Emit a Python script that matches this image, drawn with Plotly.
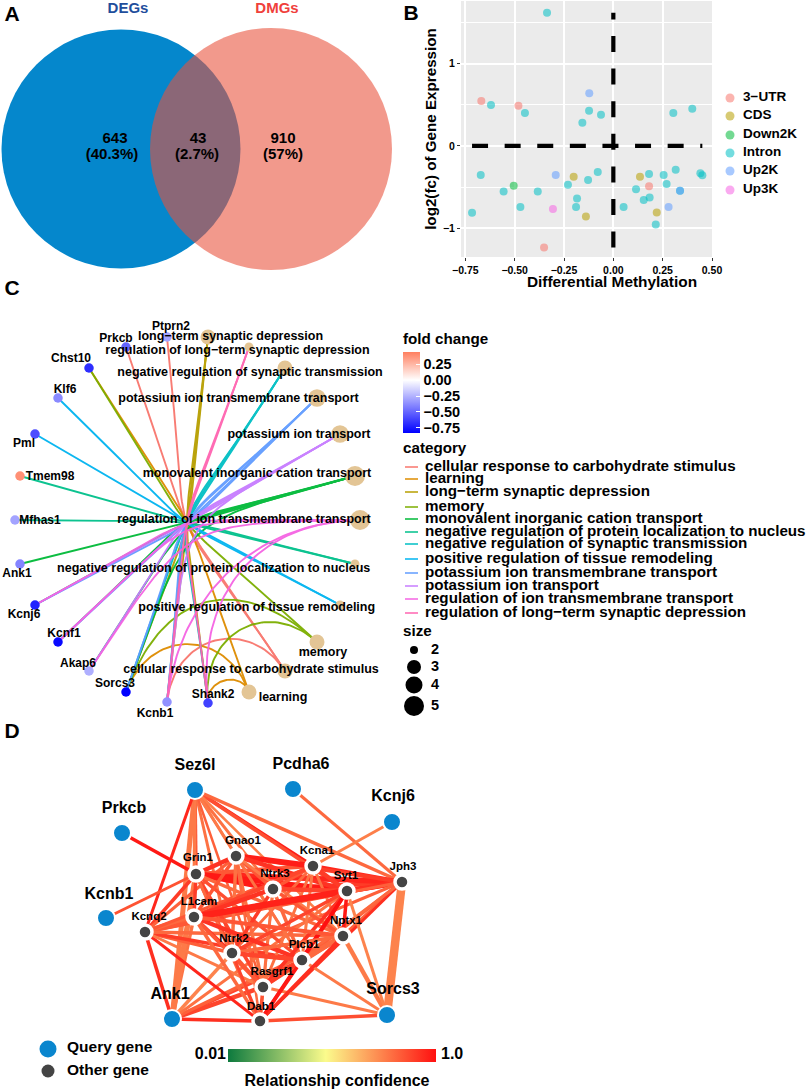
import numpy as np
import plotly.graph_objects as go
from plotly.colors import sample_colorscale

FONT = "Liberation Sans"
W, H = 809, 1091

# ---------- Panel A: Venn ----------
venn_titles = ["DEGs", "DMGs"]
venn_counts = ["643", "43", "910"]
venn_pcts = ["(40.3%)", "(2.7%)", "(57%)"]

# ---------- Panel B: scatter ----------
regions = ["3\u2212UTR", "CDS", "Down2K", "Intron", "Up2K", "Up3K"]
region_colors = ["#F8766D", "#B79F00", "#00BA38", "#00BFC4", "#619CFF", "#F564E3"]
meth = {
    "3\u2212UTR": [-0.669, -0.481, 0.181, -0.351],
    "CDS": [-0.201, 0.135, -0.139, 0.22],
    "Down2K": [-0.505],
    "Intron": [-0.336, -0.62, -0.448, -0.123, -0.157, -0.0625, 0.304, 0.40, -0.672, -0.556, -0.471,
               -0.716, -0.383, -0.23, -0.184, -0.189, -0.128, -0.079, 0.052, 0.115, 0.154, 0.184,
               0.181, 0.255, 0.27, 0.316, 0.441, 0.451, 0.215, 0.338],
    "Up2K": [-0.122, -0.292, 0.28, 0.338],
    "Up3K": [-0.306],
}
expr = {
    "3\u2212UTR": [0.545, 0.488, -0.492, -1.236],
    "CDS": [-0.374, -0.374, -0.858, -0.809],
    "Down2K": [-0.484],
    "Intron": [1.618, 0.496, 0.398, 0.427, 0.28, 0.378, 0.398, 0.451, -0.354, -0.553, -0.744,
               -0.813, -0.553, -0.472, -0.638, -0.744, -0.415, -0.317, -0.744, -0.528, -0.659, -0.626,
               -0.341, -0.354, -0.463, -0.289, -0.333, -0.358, -0.955, -0.545],
    "Up2K": [0.638, -0.354, -0.744, -0.545],
    "Up3K": [-0.768],
}
region_leg_y = [98, 116, 135, 153, 171, 190]

# ---------- Panel C: gene-concept network ----------
c_genes = ["Ptprn2", "Prkcb", "Chst10", "Klf6", "Pml", "Tmem98", "Mfhas1", "Ank1", "Kcnj6", "Kcnf1",
           "Akap6", "Sorcs3", "Kcnb1", "Shank2"]
c_gene_x = [167, 126, 89, 58, 35, 20, 15, 20, 35, 58, 89, 126, 167, 208]
c_gene_y = [337, 347, 368, 398, 434, 476, 520, 564, 605, 642, 671, 692, 702, 703]
c_gene_fc = [-0.30, -0.50, -0.68, -0.38, -0.58, 0.38, -0.30, -0.40, -0.72, -0.80, -0.26, -0.83, -0.36, -0.62]
c_gene_lx = [171, 116, 71, 65, 24, 50, 40, 17, 24, 64, 78, 115, 155, 213]
c_gene_ly = [327, 339, 359, 390, 444, 477, 521, 574, 615, 634, 664, 684, 714, 695]

c_terms = ["cellular response to carbohydrate stimulus", "learning", "long\u2212term synaptic depression",
           "memory", "monovalent inorganic cation transport",
           "negative regulation of protein localization to nucleus",
           "negative regulation of synaptic transmission", "positive regulation of tissue remodeling",
           "potassium ion transmembrane transport", "potassium ion transport",
           "regulation of ion transmembrane transport", "regulation of long\u2212term synaptic depression"]
c_term_colors = ["#F8766D", "#DE8C00", "#B79F00", "#7CAE00", "#00BA38", "#00C08B", "#00BFC4", "#00B4F0",
                 "#619CFF", "#C77CFF", "#F564E3", "#FF64B0"]
c_term_x = [285, 249, 208, 317, 355, 355, 285, 340, 317, 340, 360, 249]
c_term_y = [671, 692, 337, 642, 476, 564, 368, 605, 398, 434, 520, 347]
c_term_lx = [251, 283, 230.5, 323, 257, 213.7, 250, 256.7, 238.5, 299, 244, 237.5]
c_term_ly = [670, 698, 337, 653, 474, 569, 373, 608, 399, 435, 520, 351]
c_term_genes = [
    ["Prkcb", "Ptprn2", "Kcnb1"],
    ["Chst10", "Sorcs3", "Shank2"],
    ["Sorcs3", "Kcnb1", "Shank2"],
    ["Chst10", "Sorcs3", "Shank2"],
    ["Ank1", "Kcnj6", "Kcnf1", "Akap6", "Sorcs3"],
    ["Tmem98", "Mfhas1"],
    ["Sorcs3", "Kcnb1", "Shank2"],
    ["Klf6", "Pml"],
    ["Kcnj6", "Kcnf1", "Sorcs3", "Kcnb1"],
    ["Kcnj6", "Kcnf1", "Akap6", "Kcnb1"],
    ["Kcnj6", "Kcnf1", "Akap6", "Kcnb1", "Shank2"],
    ["Kcnb1", "Shank2"],
]
c_center = (187, 523)
c_legend_y = [467, 479, 492, 507, 519, 532, 544, 559, 573, 586, 599, 613]
size_levels = [2, 3, 4, 5]
size_diam = {2: 9, 3: 15, 4: 17.5, 5: 20}
size_leg_y = [650, 667, 685, 706]
size_leg_d = [8, 14, 17, 20]

# ---------- Panel D: interaction network ----------
query_genes = ["Sez6l", "Pcdha6", "Kcnj6", "Prkcb", "Kcnb1", "Ank1", "Sorcs3"]
query_x = [195, 293, 392, 122, 106, 172, 387]
query_y = [790, 789, 822, 833, 918, 1019, 1015]
query_lx = [195, 301, 393, 124, 109, 170, 393]
query_ly = [766, 765, 797, 809, 895, 995, 990]
other_genes = ["Gnao1", "Grin1", "Kcna1", "Jph3", "Ntrk3", "Syt1", "L1cam", "Kcnq2", "Nptx1", "Ntrk2",
               "Plcb1", "Rasgrf1", "Dab1"]
other_x = [236, 196, 313, 402, 273, 347, 194, 145, 343, 232, 302, 263, 260]
other_y = [856, 874, 866, 882, 889, 891, 917, 932, 936, 953, 960, 987, 1021]
other_lx = [243, 198, 317, 403, 275, 346, 199, 149, 346, 234, 304, 272, 261]
other_ly = [841, 858, 851, 867, 874, 876, 902, 917, 921, 939, 945, 972, 1007]
d_edges = [
    ("Sez6l", "Ank1", .76, 5), ("Sez6l", "Kcnq2", .95, 3), ("Sez6l", "Grin1", .86, 3.5), ("Sez6l", "L1cam", .76, 3.5),
    ("Sez6l", "Gnao1", .78, 3), ("Sez6l", "Ntrk3", .78, 3), ("Sez6l", "Kcna1", .97, 3.5), ("Sez6l", "Syt1", .86, 3.5),
    ("Sez6l", "Jph3", .80, 3.5), ("Sez6l", "Ntrk2", .78, 3), ("Sez6l", "Plcb1", .76, 2.5), ("Sez6l", "Nptx1", .75, 2.5),
    ("Sez6l", "Rasgrf1", .82, 2.5), ("Prkcb", "Grin1", .98, 3.5), ("Kcnb1", "Grin1", .85, 3), ("Pcdha6", "Jph3", .80, 3),
    ("Kcnj6", "Kcna1", .75, 3), ("Jph3", "Sorcs3", .74, 8.5), ("Jph3", "Kcna1", .95, 4), ("Jph3", "Syt1", .97, 5.5),
    ("Jph3", "Ntrk3", .90, 4.5), ("Jph3", "Grin1", .95, 5.5), ("Jph3", "L1cam", .93, 5), ("Jph3", "Nptx1", .82, 3.5),
    ("Jph3", "Plcb1", .82, 3.5), ("Jph3", "Dab1", .93, 3), ("Jph3", "Gnao1", .90, 4), ("Jph3", "Rasgrf1", .80, 3),
    ("Jph3", "Ntrk2", .82, 3), ("Jph3", "Kcnq2", .82, 3),
    ("Ank1", "Kcnq2", .93, 3.5), ("Ank1", "Dab1", .93, 3.5), ("Ank1", "Rasgrf1", .88, 4.5), ("Ank1", "Plcb1", .88, 3.5),
    ("Ank1", "L1cam", .78, 3.5), ("Ank1", "Grin1", .76, 5.5), ("Ank1", "Ntrk2", .74, 3.5), ("Ank1", "Nptx1", .82, 3.5),
    ("Ank1", "Syt1", .78, 3), ("Sorcs3", "Dab1", .86, 3.5), ("Sorcs3", "Rasgrf1", .76, 3), ("Sorcs3", "Nptx1", .76, 4.5),
    ("Sorcs3", "Syt1", .74, 3), ("Sorcs3", "Plcb1", .76, 3),
    ("Kcnq2", "Grin1", .90, 3.5), ("Kcnq2", "L1cam", .82, 5.5), ("Kcnq2", "Ntrk2", .82, 3.5), ("Kcnq2", "Dab1", .95, 3),
    ("Kcnq2", "Plcb1", .90, 3.5), ("Kcnq2", "Syt1", .84, 4), ("Kcnq2", "Nptx1", .80, 3.5), ("Kcnq2", "Ntrk3", .80, 3.5),
    ("Kcnq2", "Rasgrf1", .76, 3), ("Kcnq2", "Kcna1", .84, 3), ("Kcnq2", "Gnao1", .82, 3),
    ("Grin1", "Gnao1", .92, 4.5), ("Grin1", "Kcna1", .84, 4), ("Grin1", "Ntrk3", .98, 5), ("Grin1", "Syt1", .98, 5.5),
    ("Grin1", "L1cam", .90, 3.5), ("Grin1", "Ntrk2", .86, 3.5), ("Grin1", "Plcb1", .86, 3.5), ("Grin1", "Rasgrf1", .88, 3.5),
    ("Grin1", "Nptx1", .80, 3.5), ("Grin1", "Dab1", .80, 3),
    ("Gnao1", "Kcna1", .97, 5.5), ("Gnao1", "Ntrk3", .84, 3.5), ("Gnao1", "Syt1", .92, 4.5), ("Gnao1", "L1cam", .84, 3.5),
    ("Gnao1", "Ntrk2", .78, 3.5), ("Gnao1", "Plcb1", .78, 3), ("Gnao1", "Rasgrf1", .78, 3.5), ("Gnao1", "Nptx1", .76, 3),
    ("Gnao1", "Dab1", .80, 2.5), ("Kcna1", "Ntrk3", .84, 3.5), ("Kcna1", "Syt1", .90, 4.5), ("Kcna1", "L1cam", .88, 4),
    ("Kcna1", "Ntrk2", .80, 3), ("Kcna1", "Plcb1", .76, 3), ("Kcna1", "Rasgrf1", .78, 3), ("Kcna1", "Nptx1", .78, 3),
    ("Ntrk3", "Syt1", .88, 4.5), ("Ntrk3", "L1cam", .92, 4.5), ("Ntrk3", "Ntrk2", .90, 3.5), ("Ntrk3", "Plcb1", .80, 3.5),
    ("Ntrk3", "Rasgrf1", .78, 3), ("Ntrk3", "Nptx1", .84, 3.5), ("Ntrk3", "Dab1", .78, 2.5),
    ("Syt1", "L1cam", .96, 6.5), ("Syt1", "Ntrk2", .88, 3.5), ("Syt1", "Plcb1", .98, 4), ("Syt1", "Rasgrf1", .92, 3.5),
    ("Syt1", "Nptx1", .98, 3.5), ("Syt1", "Dab1", 1.0, 3.5),
    ("L1cam", "Ntrk2", .92, 3.5), ("L1cam", "Plcb1", .92, 4.5), ("L1cam", "Rasgrf1", .84, 3.5), ("L1cam", "Nptx1", .84, 4),
    ("L1cam", "Dab1", .80, 3.5), ("Nptx1", "Ntrk2", .80, 3.5), ("Nptx1", "Plcb1", .80, 5), ("Nptx1", "Rasgrf1", .80, 3.5),
    ("Nptx1", "Dab1", .93, 3.5), ("Ntrk2", "Plcb1", .88, 4.5), ("Ntrk2", "Rasgrf1", .84, 3.5), ("Ntrk2", "Dab1", .88, 3),
    ("Plcb1", "Rasgrf1", .90, 4.5), ("Plcb1", "Dab1", .98, 3.5), ("Rasgrf1", "Dab1", .85, 3.5),
]
conf_scale = [[0, "#0d7a3e"], [0.47, "#fbfb8c"], [1, "#ff1010"]]

fig = go.Figure()


def text(xs, ys, labels, size, color="black", pos="middle center", name="labels"):
    fig.add_trace(go.Scatter(
        x=xs, y=ys, text=labels, mode="text", textposition=pos, xaxis="x2", yaxis="y2",
        textfont=dict(family=FONT, size=size, color=color, weight=700),
        cliponaxis=False, showlegend=False, hoverinfo="skip", name=name))


def bend(chord):
    """How far a circular-layout edge is pulled towards the middle of the ring."""
    if chord <= 270:
        return min(chord / 217, 0.9)
    return min(2.0, 0.9 + (chord - 270) * 1.1 / 70)


# ---- B ----
for r, col in zip(regions, region_colors):
    fig.add_trace(go.Scatter(x=meth[r], y=expr[r], mode="markers", name=r, showlegend=False,
                             marker=dict(size=8, color=col, opacity=0.55, line=dict(width=0)),
                             xaxis="x", yaxis="y"))
all_x = [v for r in regions for v in meth[r]]
all_y = [v for r in regions for v in expr[r]]
fig.add_trace(go.Scatter(x=[min(all_x), max(all_x)], y=[0, 0], mode="lines", showlegend=False,
                         line=dict(color="black", width=4.2, dash="16px,16.6px"), xaxis="x", yaxis="y"))
fig.add_trace(go.Scatter(x=[0, 0], y=[min(all_y), max(all_y)], mode="lines", showlegend=False,
                         line=dict(color="black", width=4.2, dash="16px,16.6px"), xaxis="x", yaxis="y"))
fig.add_trace(go.Scatter(x=[730] * 6, y=region_leg_y, mode="markers", xaxis="x2", yaxis="y2", showlegend=False,
                         marker=dict(size=9, color=region_colors, opacity=0.55, line=dict(width=0)),
                         text=regions, hoverinfo="text"))
text([743] * 6, region_leg_y, regions, 13.5, pos="middle right")
text([612], [283], ["Differential Methylation"], 15.4)

# ---- C edges ----
gx = dict(zip(c_genes, c_gene_x))
gy = dict(zip(c_genes, c_gene_y))
ts = np.linspace(0, 1, 61)
for term, col, tx, ty, genes in zip(c_terms, c_term_colors, c_term_x, c_term_y, c_term_genes):
    xs, ys = [], []
    for g in genes:
        ax, ay = gx[g], gy[g]
        k = min(4 / 3, bend(np.hypot(tx - ax, ty - ay)) / 1.5)
        p1x, p1y = ax + k * (c_center[0] - ax), ay + k * (c_center[1] - ay)
        p2x, p2y = tx + k * (c_center[0] - tx), ty + k * (c_center[1] - ty)
        xs += list((1 - ts) ** 3 * ax + 3 * ts * (1 - ts) ** 2 * p1x + 3 * ts ** 2 * (1 - ts) * p2x + ts ** 3 * tx) + [None]
        ys += list((1 - ts) ** 3 * ay + 3 * ts * (1 - ts) ** 2 * p1y + 3 * ts ** 2 * (1 - ts) * p2y + ts ** 3 * ty) + [None]
    fig.add_trace(go.Scatter(x=xs, y=ys, mode="lines", line=dict(color=col, width=1.9), opacity=0.95,
                             xaxis="x2", yaxis="y2", showlegend=False, hoverinfo="skip", name=term))

# ---- C nodes ----
fig.add_trace(go.Scatter(
    x=c_term_x, y=c_term_y, mode="markers", xaxis="x2", yaxis="y2", showlegend=False,
    marker=dict(color="#E3C595", opacity=1, line=dict(width=0), size=[size_diam[len(g)] for g in c_term_genes]),
    text=c_terms, hoverinfo="text"))
fig.add_trace(go.Scatter(
    x=c_gene_x, y=c_gene_y, mode="markers", xaxis="x2", yaxis="y2", showlegend=False,
    marker=dict(size=9.5, opacity=1, color=c_gene_fc, coloraxis="coloraxis", line=dict(width=0)),
    text=c_genes, hoverinfo="text"))
text(c_term_lx, c_term_ly, c_terms, 12.5)
text(c_gene_lx, c_gene_ly, c_genes, 12)

# ---- C legends ----
text([403], [340], ["fold change"], 15.2, pos="middle right")
text([403], [449], ["category"], 15.2, pos="middle right")
text([403], [632], ["size"], 15.2, pos="middle right")
for col, y in zip(c_term_colors, c_legend_y):
    fig.add_trace(go.Scatter(x=[405, 418], y=[y, y], mode="lines", line=dict(color=col, width=1.5),
                             xaxis="x2", yaxis="y2", showlegend=False, hoverinfo="skip"))
text([425] * len(c_terms), c_legend_y, c_terms, 15.2, pos="middle right")
fig.add_trace(go.Scatter(x=[414] * 4, y=size_leg_y, mode="markers", xaxis="x2", yaxis="y2", showlegend=False,
                         marker=dict(size=size_leg_d, opacity=1, color="black", line=dict(width=0))))
text([431] * 4, size_leg_y, [str(s) for s in size_levels], 14.5, pos="middle right")

# ---- D ----
pos = {n: (x, y) for n, x, y in zip(query_genes + other_genes, query_x + other_x, query_y + other_y)}
for a, b, conf, w in d_edges:
    col = sample_colorscale(conf_scale, [conf])[0]
    fig.add_trace(go.Scatter(x=[pos[a][0], pos[b][0]], y=[pos[a][1], pos[b][1]], mode="lines",
                             line=dict(color=col, width=w), xaxis="x2", yaxis="y2",
                             showlegend=False, hoverinfo="skip"))
fig.add_trace(go.Scatter(x=query_x, y=query_y, mode="markers", xaxis="x2", yaxis="y2", showlegend=False,
                         marker=dict(size=18, color="#0A86CE", line=dict(color="white", width=2)),
                         text=query_genes, hoverinfo="text"))
fig.add_trace(go.Scatter(x=other_x, y=other_y, mode="markers", xaxis="x2", yaxis="y2", showlegend=False,
                         marker=dict(size=14, color="#444444", line=dict(color="white", width=3.5)),
                         text=other_genes, hoverinfo="text"))
text(query_lx, query_ly, query_genes, 16)
text(other_lx, other_ly, other_genes, 11.5)

# D legends
fig.add_trace(go.Scatter(x=[48, 48], y=[1049, 1071], mode="markers", xaxis="x2", yaxis="y2", showlegend=False,
                         marker=dict(size=[17, 13], opacity=1, color=["#0A86CE", "#444444"], line=dict(width=0))))
text([67, 67], [1048, 1071], ["Query gene", "Other gene"], 15.5, pos="middle right")
fig.add_trace(go.Scatter(x=[48], y=[1049], mode="markers", xaxis="x2", yaxis="y2", showlegend=False, hoverinfo="skip",
                         marker=dict(size=1, opacity=0, color=[1.0], coloraxis="coloraxis2")))
text([226], [1055], ["0.01"], 16, pos="middle left")
text([441], [1055], ["1.0"], 16, pos="middle right")
text([337], [1082], ["Relationship confidence"], 16)

# A text and panel letters
text([128, 277], [9, 9], venn_titles, 15, color=["#1F4E9C", "#F0403C"])
text([115, 198, 283], [139, 139, 139], venn_counts, 15)
text([112, 197, 283], [155, 155, 155], venn_pcts, 15)
text([12, 411, 12, 12], [16, 15, 290, 733], ["A", "B", "C", "D"], 21)

fig.update_layout(
    width=W, height=H, autosize=False, margin=dict(l=0, r=0, t=0, b=0, autoexpand=False),
    paper_bgcolor="white", plot_bgcolor="rgba(0,0,0,0)", showlegend=False,
    font=dict(family=FONT, color="black"),
    xaxis=dict(domain=[461 / W, 712 / W], range=[-0.772, 0.5], anchor="y",
               tickvals=[-0.75, -0.5, -0.25, 0, 0.25, 0.5],
               ticktext=["\u22120.75", "\u22120.50", "\u22120.25", "0.00", "0.25", "0.50"],
               tickfont=dict(family=FONT, size=10.5, color="black", weight=700),
               ticks="outside", ticklen=3, tickcolor="#333", showgrid=True, gridcolor="white", gridwidth=1.5,
               zeroline=False, showline=False),
    yaxis=dict(domain=[1 - 257 / H, 1 - 1 / H], range=[-1.35, 1.76], anchor="x",
               tickvals=[-1, 0, 1], ticktext=["\u22121", "0", "1"],
               tickfont=dict(family=FONT, size=10.5, color="black", weight=700),
               ticks="outside", ticklen=3, tickcolor="#333", showgrid=True, gridcolor="white", gridwidth=1.5,
               minor=dict(dtick=0.5, tick0=0, showgrid=True, gridcolor="white", gridwidth=1),
               zeroline=False, showline=False,
               title=dict(text="log2(fc) of Gene Expression", standoff=2,
                          font=dict(family=FONT, size=15.2, color="black", weight=700))),
    xaxis2=dict(domain=[0, 1], range=[0, W], visible=False, anchor="y2", fixedrange=True),
    yaxis2=dict(domain=[0, 1], range=[H, 0], visible=False, anchor="x2", fixedrange=True),
    coloraxis=dict(cmin=-0.83, cmax=0.44,
                   colorscale=[[0, "#0000ff"], [0.653, "#ffffff"], [1, "#ff7f5f"]],
                   colorbar=dict(x=403 / W, xanchor="left", y=1 - 352 / H, yanchor="top",
                                 lenmode="pixels", len=81, thicknessmode="pixels", thickness=17,
                                 xpad=0, ypad=0, outlinewidth=0, tickvals=[0.25, 0, -0.25, -0.5, -0.75],
                                 ticks="inside", ticklen=4, tickcolor="white",
                                 ticktext=["0.25", "0.00", "\u22120.25", "\u22120.50", "\u22120.75"],
                                 tickfont=dict(family=FONT, size=14.5, color="black", weight=700))),
    coloraxis2=dict(cmin=0.01, cmax=1.0, colorscale=conf_scale,
                    colorbar=dict(orientation="h", x=228 / W, xanchor="left", y=1 - 1049 / H, yanchor="top",
                                  lenmode="pixels", len=208, thicknessmode="pixels", thickness=13,
                                  xpad=0, ypad=0, outlinewidth=0, ticks="", showticklabels=False)),
    shapes=[
        dict(type="rect", xref="x domain", yref="y domain", x0=0, x1=1, y0=0, y1=1, fillcolor="#EBEBEB",
             line=dict(width=0), layer="below"),
        dict(type="circle", xref="x2", yref="y2", x0=1.5, x1=240.5, y0=29.5, y1=268.5, fillcolor="#0587CC",
             line=dict(width=0), layer="below"),
        dict(type="circle", xref="x2", yref="y2", x0=150, x1=392, y0=28, y1=270, fillcolor="rgba(233,82,60,0.59)",
             line=dict(width=0), layer="below"),
    ],
)
fig.write_html("out.html", config={"displayModeBar": False},
               post_script="document.body.style.margin='0';document.body.style.overflow='hidden';")
